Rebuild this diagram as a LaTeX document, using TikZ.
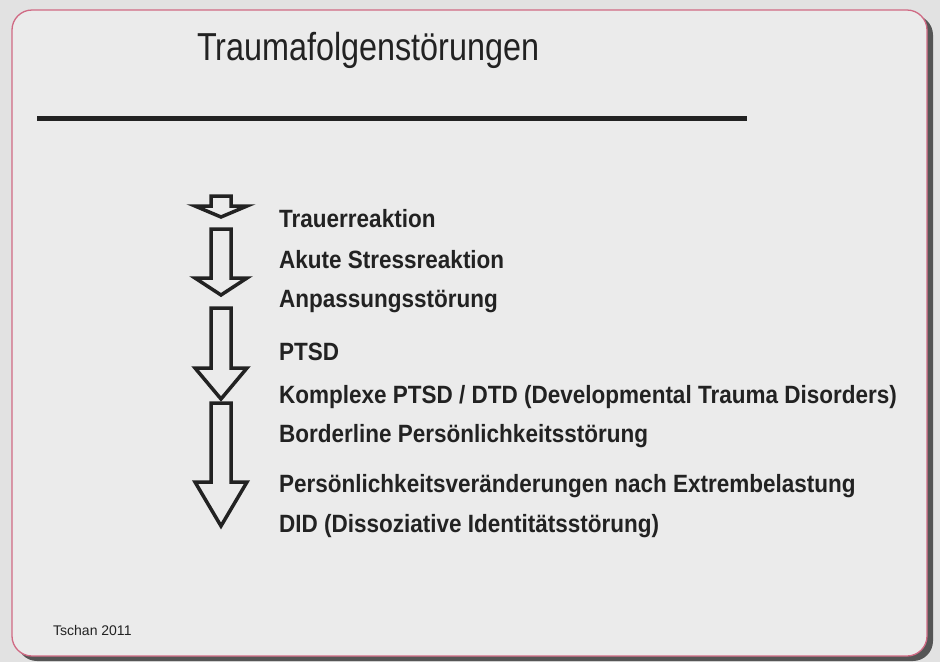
\documentclass[tikz,border=0pt]{standalone}
\usepackage{fontspec}
\setmainfont{Liberation Sans}
\newfontfamily\titlefont[FakeStretch=0.83]{Liberation Sans}
\newfontfamily\itemfont[FakeStretch=0.9]{Liberation Sans}
\definecolor{paper}{HTML}{E2E2E2}
\definecolor{slidebg}{HTML}{EBEBEB}
\definecolor{slideborder}{HTML}{D06A84}
\definecolor{ink}{HTML}{222222}
\definecolor{shadowc}{HTML}{555555}
\tikzset{
  arrowline/.style={draw=ink, line width=3.5pt, line join=miter, fill=slidebg},
  itemtext/.style={anchor=base west, inner sep=0pt, text=ink, font=\itemfont\bfseries\fontsize{25}{28}\selectfont},
}
\newcommand{\downblock}[3]{%
  \draw[arrowline] (211,#1) -- (231,#1) -- (231,#2) -- (247,#2) -- (221,#3)
     -- (195,#2) -- (211,#2) -- cycle;}
\begin{document}
\begin{tikzpicture}[x=1pt,y=-1pt]
\useasboundingbox (0,0) rectangle (940,662);
\fill[paper] (0,0) rectangle (940,662);
% shadow
\fill[shadowc, rounded corners=20pt] (17,15) rectangle (933,661);
% slide
\draw[slideborder, fill=slidebg, line width=1.3pt, rounded corners=20pt] (12,10) rectangle (927,656);
% title
\node[anchor=base west, inner sep=0pt, text=ink, font=\titlefont\fontsize{39}{44}\selectfont] (title) at (197,60) {Traumafolgenstörungen};
\draw[ink, line width=5pt] (37,118) -- (747,118);
% arrows
\downblock{196}{206}{217}
\downblock{229}{278}{295}
\downblock{308}{368}{399}
\downblock{403}{482}{526}
% items
\node[itemtext] (i1) at (279,227) {Trauerreaktion};
\node[itemtext] (i2) at (279,268) {Akute Stressreaktion};
\node[itemtext] (i3) at (279,307) {Anpassungsstörung};
\node[itemtext] (i4) at (279,360) {PTSD};
\node[itemtext] (i5) at (279,403) {Komplexe PTSD / DTD (Developmental Trauma Disorders)};
\node[itemtext] (i6) at (279,442) {Borderline Persönlichkeitsstörung};
\node[itemtext] (i7) at (279,492) {Persönlichkeitsveränderungen nach Extrembelastung};
\node[itemtext] (i8) at (279,532) {DID (Dissoziative Identitätsstörung)};
% footer
\node[anchor=base west, inner sep=0pt, text=ink, font=\fontsize{14}{16}\selectfont] (foot) at (53,635) {Tschan 2011};
\end{tikzpicture}
\end{document}
